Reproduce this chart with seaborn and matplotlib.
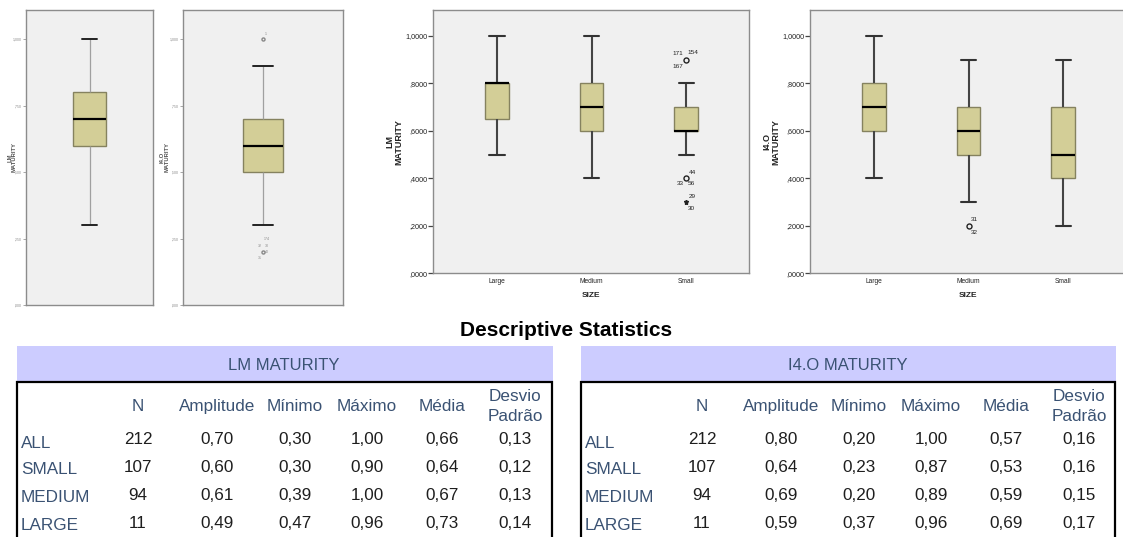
import pandas as pd
import seaborn as sns
import matplotlib.pyplot as plt
from matplotlib.patches import Rectangle
from matplotlib.ticker import FuncFormatter

# ---- dados ----
sizes = ["Large", "Medium", "Small"]

# caixas gerais: whisker inferior, Q1, mediana, Q3, whisker superior
lm_all_box = [0.30, 0.60, 0.70, 0.80, 1.00]
io_all_box = [0.30, 0.50, 0.60, 0.70, 0.90]
io_all_outliers = [1.00, 0.20]
io_all_out_labels = [["1"], ["174", "32", "30", "40", "31"]]

# caixas por SIZE (Large, Medium, Small)
lm_low = [0.50, 0.40, 0.50]
lm_q1 = [0.65, 0.60, 0.60]
lm_med = [0.80, 0.70, 0.60]
lm_q3 = [0.80, 0.80, 0.70]
lm_high = [1.00, 1.00, 0.80]
lm_out_size = ["Small", "Small", "Small"]
lm_out_vals = [0.90, 0.40, 0.30]
lm_out_marker = ["o", "o", "*"]
lm_out_labels = [["171", "154", "167"], ["44", "33", "56"], ["29", "30"]]

io_low = [0.40, 0.30, 0.20]
io_q1 = [0.60, 0.50, 0.40]
io_med = [0.70, 0.60, 0.50]
io_q3 = [0.80, 0.70, 0.70]
io_high = [1.00, 0.90, 0.90]
io_out_size = ["Medium"]
io_out_vals = [0.20]
io_out_marker = ["o"]
io_out_labels = [["31", "32"]]

# tabela Descriptive Statistics
stat_rows = ["ALL", "SMALL", "MEDIUM", "LARGE"]
stat_cols = ["N", "Amplitude", "Mínimo", "Máximo", "Média", "Desvio\nPadrão"]
lm_n = [212, 107, 94, 11]
lm_range = [0.70, 0.60, 0.61, 0.49]
lm_min = [0.30, 0.30, 0.39, 0.47]
lm_max = [1.00, 0.90, 1.00, 0.96]
lm_mean = [0.66, 0.64, 0.67, 0.73]
lm_sd = [0.13, 0.12, 0.13, 0.14]
io_n = [212, 107, 94, 11]
io_range = [0.80, 0.64, 0.69, 0.59]
io_min = [0.20, 0.23, 0.20, 0.37]
io_max = [1.00, 0.87, 0.89, 0.96]
io_mean = [0.57, 0.53, 0.59, 0.69]
io_sd = [0.16, 0.16, 0.15, 0.17]

# ---- estilo ----
sns.set_theme(style="white", rc={"axes.facecolor": "#F0F0F0",
                                 "axes.edgecolor": "#8C8C8C",
                                 "axes.linewidth": 1.0})
plt.rcParams["font.family"] = ["Liberation Sans", "DejaVu Sans"]

box_face = "#D3CE97"
box_edge = "#85825F"
header_blue = "#3A5273"
band_color = "#CCCCFF"

W, H = 1123, 537
fig = plt.figure(figsize=(W / 100, H / 100), dpi=100)


def rect(left, top, w, h):
    return [left / W, 1 - (top + h) / H, w / W, h / H]


def long_df(low, q1, med, q3, high):
    rows = []
    for i, s in enumerate(sizes):
        for v in (low[i], q1[i], med[i], q3[i], high[i]):
            rows.append({"SIZE": s, "valor": v})
    return pd.DataFrame(rows)


def comma_fmt(decimals):
    return FuncFormatter(lambda v, p: f"{v:.{decimals}f}".replace(".", ",").lstrip("0"))


def mark_outliers(ax, xs, vals, markers, labels, offsets, ms, fs, color):
    for x, v, m, labs in zip(xs, vals, markers, labels):
        ax.plot([x], [v], marker=m, ms=ms, ls="none", mec=color,
                mfc="none" if m == "o" else color, mew=1.0, zorder=4)
        for lab in labs:
            dx, dy = offsets[lab]
            ax.annotate(lab, (x, v), xytext=(dx * 0.72, dy * 0.72),
                        textcoords="offset points", ha="center", va="center",
                        fontsize=fs, color=color)


# ---- boxplots gerais (pequenos) ----
ax1 = fig.add_axes(rect(26, 10, 127, 295))
ax2 = fig.add_axes(rect(183, 10, 160, 295))

for ax, vals, w, capw, lab in [(ax1, lm_all_box, 0.26, 0.12, "LM\nMATURITY"),
                               (ax2, io_all_box, 0.25, 0.125, "I4.O\nMATURITY")]:
    sns.boxplot(y=vals, ax=ax, width=w, whis=(0, 100), color=box_face,
                saturation=1, linecolor=box_edge, linewidth=1, showfliers=False,
                capwidths=capw,
                medianprops=dict(color="black", linewidth=1.6),
                whiskerprops=dict(color="#A0A0A0", linewidth=0.9),
                capprops=dict(color="#222222", linewidth=1.4))
    ax.set_xlim(-0.5, 0.5)
    ax.set_ylim(0, 1.11)
    ax.set_yticks([0, 0.25, 0.5, 0.75, 1.0])
    ax.yaxis.set_major_formatter(comma_fmt(3))
    ax.tick_params(axis="y", left=True, length=2.5, width=0.6, color="#999999",
                   labelsize=2.5, labelcolor="#888888", pad=0.5)
    ax.set_xticks([])
    ax.set_xlabel("")
    ax.set_ylabel(lab, fontsize=4.2, fontweight="bold", color="#555555",
                  linespacing=0.9)
    ax.yaxis.set_label_coords(-0.07 if ax is ax1 else -0.085, 0.5)

small_offsets = {"1": (3, 5), "174": (4, 13), "32": (-3, 6), "30": (4, 6),
                 "40": (3.5, 0), "31": (-3, -6.5)}
mark_outliers(ax2, [0, 0], io_all_outliers, ["o", "o"], io_all_out_labels,
              small_offsets, 2.2, 2.6, "#888888")

# ---- boxplots por SIZE ----
ax3 = fig.add_axes(rect(433, 10, 316, 263.3))
ax4 = fig.add_axes(rect(810, 10, 316, 263.3))

panels = [
    (ax3, long_df(lm_low, lm_q1, lm_med, lm_q3, lm_high), "LM\nMATURITY",
     lm_out_size, lm_out_vals, lm_out_marker, lm_out_labels,
     {"171": (-8.3, 6), "154": (7.3, 7.3), "167": (-8.3, -6.7),
      "44": (6.7, 6.3), "33": (-6, -5), "56": (5.7, -5),
      "29": (5.7, 5.6), "30": (5.7, -6)}),
    (ax4, long_df(io_low, io_q1, io_med, io_q3, io_high), "I4.O\nMATURITY",
     io_out_size, io_out_vals, io_out_marker, io_out_labels,
     {"31": (6, 6.7), "32": (6, -6.7)}),
]

for ax, df, ylab, osz, ovals, omark, olabs, offs in panels:
    sns.boxplot(data=df, x="SIZE", y="valor", order=sizes, ax=ax, width=0.25,
                whis=(0, 100), color=box_face, saturation=1, linecolor=box_edge,
                linewidth=1, showfliers=False, capwidths=0.16,
                medianprops=dict(color="black", linewidth=1.6),
                whiskerprops=dict(color="#444444", linewidth=1.5),
                capprops=dict(color="#333333", linewidth=1.5))
    mark_outliers(ax, [sizes.index(s) for s in osz], ovals, omark, olabs,
                  offs, 3.6, 4.6, "#222222")
    ax.set_xlim(-0.676, 2.665)
    ax.set_ylim(0, 1.1096)
    ax.set_yticks([0, 0.2, 0.4, 0.6, 0.8, 1.0])
    ax.yaxis.set_major_formatter(comma_fmt(4))
    ax.tick_params(axis="y", left=True, length=3.6, width=0.9, color="#444444",
                   labelsize=5.2, labelcolor="#222222", pad=0.5)
    ax.tick_params(axis="x", bottom=False, length=0, labelsize=4.8,
                   labelcolor="#222222", pad=3.5)
    ax.set_xlabel("SIZE", fontsize=6, fontweight="bold", color="#222222")
    ax.xaxis.set_label_coords(0.5, -0.072)
    ax.xaxis.label.set_va("top")
    ax.set_ylabel(ylab, fontsize=6.5, fontweight="bold", color="#222222",
                  linespacing=0.95)
    ax.yaxis.set_label_coords(-0.095, 0.5)

# ---- tabelas ----
fig.text(566 / W, 1 - 330 / H, "Descriptive Statistics", ha="center",
         va="center", fontsize=15, fontweight="bold", color="black")

col_pos = [121, 200, 278, 350, 425, 498]
value_y = [440, 467, 495, 523]


def fmt_num(v):
    return f"{v:.2f}".replace(".", ",")


def draw_table(left, width, title, cols):
    fig.patches.append(Rectangle((left / W, 1 - 382 / H), (width + 1) / W, 36 / H,
                                 transform=fig.transFigure, facecolor=band_color,
                                 edgecolor="none"))
    fig.patches.append(Rectangle((left / W, 1 - 560 / H), width / W, 178 / H,
                                 transform=fig.transFigure, facecolor="none",
                                 edgecolor="black", linewidth=1.6))
    fig.text((left + 267) / W, 1 - 365 / H, title, ha="center", va="center",
             fontsize=12, color=header_blue)
    for name, cx in zip(stat_cols, col_pos):
        fig.text((left + cx) / W, 1 - 406.5 / H, name, ha="center", va="center",
                 fontsize=12.3, color=header_blue, linespacing=1.4)
    for r, (rname, ry) in enumerate(zip(stat_rows, value_y)):
        fig.text((left + 4) / W, 1 - (ry + 3) / H, rname, ha="left", va="center",
                 fontsize=12.3, color=header_blue)
        for c, cx in enumerate(col_pos):
            v = cols[c][r]
            txt = str(v) if c == 0 else fmt_num(v)
            fig.text((left + cx) / W, 1 - ry / H, txt, ha="center", va="center",
                     fontsize=12.3, color="#1E1E1E")


draw_table(17, 535, "LM MATURITY", [lm_n, lm_range, lm_min, lm_max, lm_mean, lm_sd])
draw_table(581, 534, "I4.O MATURITY", [io_n, io_range, io_min, io_max, io_mean, io_sd])

fig.savefig("out.png", dpi=100)
